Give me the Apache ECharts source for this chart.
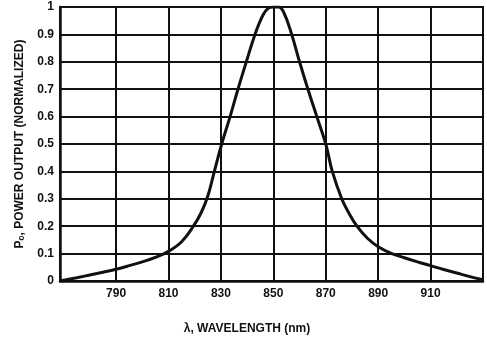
<!DOCTYPE html>
<html>
<head>
<meta charset="utf-8">
<script src="https://cdn.jsdelivr.net/npm/echarts@6/dist/echarts.min.js"></script>
<style>
  html, body { margin: 0; padding: 0; background: #fff; }
  #chart { width: 487px; height: 340px; }
</style>
</head>
<body>
<div id="chart"></div>
<script>
// wavelength (nm) and normalized power output
const wavelength = [768.6, 775, 780, 785, 790, 795, 800, 805, 810, 815, 819.5, 822.5, 825, 827.5, 830.3, 833.5, 836.5, 839.7, 843, 846, 848, 850, 852, 854, 857, 860, 863.2, 866.6, 870, 872.5, 876.1, 878.7, 881.9, 886, 890, 895, 900, 905, 910, 915, 920, 925, 930];
const power = [0, 0.012, 0.022, 0.032, 0.043, 0.056, 0.07, 0.086, 0.108, 0.143, 0.2, 0.25, 0.31, 0.4, 0.5, 0.6, 0.7, 0.8, 0.9, 0.97, 0.995, 1.0, 1.0, 0.98, 0.9, 0.8, 0.7, 0.6, 0.5, 0.4, 0.3, 0.25, 0.2, 0.155, 0.125, 0.101, 0.085, 0.07, 0.056, 0.042, 0.029, 0.016, 0.005];
const xTicks = [790, 810, 830, 850, 870, 890, 910];

const font = "'Liberation Sans', Arial, sans-serif";

const chart = echarts.init(document.getElementById("chart"), null, { renderer: "canvas" });

chart.setOption({
  backgroundColor: "#fff",
  animation: false,
  grid: {
    left: 60,
    right: 4,
    top: 7,
    bottom: 58,
    show: true,
    borderColor: "#111",
    borderWidth: 2,
  },
  xAxis: {
    type: "value",
    min: 768.6,
    max: 930,
    name: "λ, WAVELENGTH (nm)",
    nameLocation: "middle",
    nameGap: 42,
    nameTextStyle: { color: "#111", fontFamily: font, fontWeight: "bold", fontSize: 12, padding: [0, 49, 0, 0] },
    axisLine: { lineStyle: { color: "#111", width: 2.5 } },
    axisTick: { show: false, customValues: xTicks },
    axisLabel: { customValues: xTicks, color: "#111", fontFamily: font, fontWeight: "bold", fontSize: 12, margin: 7 },
    splitLine: { show: true, lineStyle: { color: "#111", width: 2 } },
  },
  yAxis: {
    type: "value",
    min: 0,
    max: 1,
    interval: 0.1,
    name: "Pₒ, POWER OUTPUT (NORMALIZED)",
    nameLocation: "middle",
    nameGap: 34,
    nameTextStyle: { color: "#111", fontFamily: font, fontWeight: "bold", fontSize: 12 },
    axisLine: { show: true, lineStyle: { color: "#111", width: 2.5 } },
    axisTick: { show: false },
    axisLabel: { color: "#111", fontFamily: font, fontWeight: "bold", fontSize: 12, margin: 6 },
    splitLine: { show: true, lineStyle: { color: "#111", width: 2 } },
  },
  series: [
    {
      type: "line",
      data: wavelength.map((w, i) => [w, power[i]]),
      smooth: 0.4,
      showSymbol: false,
      lineStyle: { color: "#111", width: 3 },
    },
  ],
});
</script>
</body>
</html>
